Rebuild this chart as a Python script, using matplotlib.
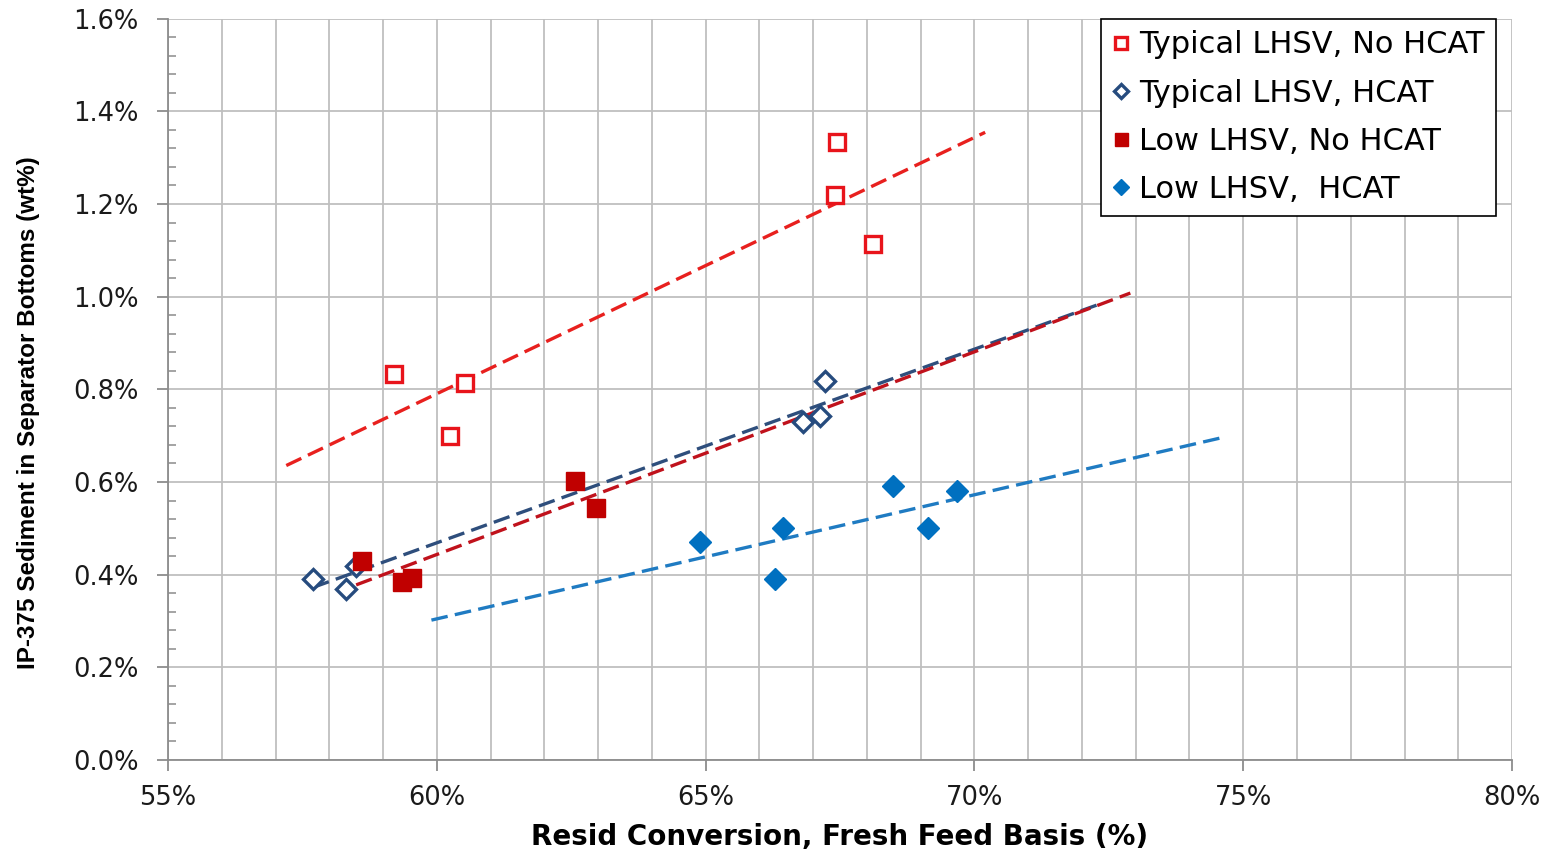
import numpy as np
import matplotlib
matplotlib.use("Agg")
import matplotlib.pyplot as plt
from matplotlib.ticker import MultipleLocator, FuncFormatter

plt.rcParams["font.family"] = ["DejaVu Sans"]

# resid conversion (%) and IP-375 sediment (wt%)
typ_nohcat_x = [59.2, 60.52, 60.25, 67.44, 67.41, 68.11]
typ_nohcat_y = [0.832, 0.813, 0.700, 1.333, 1.220, 1.113]

typ_hcat_x = [57.70, 58.31, 58.50, 67.22, 66.81, 67.13]
typ_hcat_y = [0.390, 0.369, 0.418, 0.819, 0.729, 0.742]

low_nohcat_x = [58.61, 59.35, 59.54, 62.57, 62.96]
low_nohcat_y = [0.429, 0.384, 0.392, 0.602, 0.543]

low_hcat_x = [64.90, 66.44, 66.29, 68.49, 69.14, 69.68]
low_hcat_y = [0.470, 0.500, 0.390, 0.591, 0.500, 0.580]

# x span of each linear trendline (incl. forecast)
trend_spans = [(57.2, 70.2), (57.7, 72.3), (58.5, 72.9), (59.9, 74.6)]

series = [
    ("Typical LHSV, No HCAT", typ_nohcat_x, typ_nohcat_y,
     dict(marker="s", ms=12, mfc="white", mec="#E8141B", mew=2.4), "#E8201E"),
    ("Typical LHSV, HCAT", typ_hcat_x, typ_hcat_y,
     dict(marker="D", ms=10, mfc="white", mec="#264B7E", mew=2.4), "#2E4E7C"),
    ("Low LHSV, No HCAT", low_nohcat_x, low_nohcat_y,
     dict(marker="s", ms=13, mfc="#C00000", mec="#C00000", mew=1), "#C0121C"),
    ("Low LHSV,  HCAT", low_hcat_x, low_hcat_y,
     dict(marker="D", ms=11, mfc="#0070C0", mec="#0070C0", mew=1), "#1F7BC2"),
]

fig = plt.figure(figsize=(15.44, 8.52), dpi=100)
ax = fig.add_axes([0.1088, 0.108, 0.8705, 0.8701])

for (label, xs, ys, mk, lc), (x0, x1) in zip(series, trend_spans):
    k, b = np.polyfit(xs, ys, 1)
    tx = np.array([x0, x1])
    ax.plot(tx, k * tx + b, ls=(0, (5, 2.2)), lw=2.4, color=lc, zorder=3)
for label, xs, ys, mk, lc in series:
    ax.plot(xs, ys, ls="none", label=label, zorder=4, **mk)

ax.set_xlim(55, 80)
ax.set_ylim(0, 1.6)
ax.xaxis.set_major_locator(MultipleLocator(5))
ax.xaxis.set_minor_locator(MultipleLocator(1))
ax.yaxis.set_major_locator(MultipleLocator(0.2))
ax.yaxis.set_minor_locator(MultipleLocator(0.04))
ax.xaxis.set_major_formatter(FuncFormatter(lambda v, p: f"{v:.0f}%"))
ax.yaxis.set_major_formatter(FuncFormatter(lambda v, p: f"{v:.1f}%"))

ax.grid(which="major", color="#BFBFBF", lw=1.3)
ax.grid(which="minor", axis="x", color="#BFBFBF", lw=1.3)
ax.set_axisbelow(True)

for s in ("top", "right"):
    ax.spines[s].set_visible(False)
for s in ("left", "bottom"):
    ax.spines[s].set_color("#8C8C8C")
    ax.spines[s].set_linewidth(1.3)

ax.tick_params(which="major", direction="out", length=8, width=1.3,
               color="#8C8C8C", labelsize=18.5, labelcolor="#1A1A1A")
ax.tick_params(axis="y", which="major", pad=13)
ax.tick_params(axis="x", which="major", pad=10)
ax.tick_params(axis="y", which="minor", direction="in", length=6, width=1.1,
               color="#8C8C8C")
ax.tick_params(axis="x", which="minor", length=0)

ax.set_xlabel("Resid Conversion, Fresh Feed Basis (%)", fontsize=20,
              fontweight="bold", labelpad=9)
ax.set_ylabel("IP-375 Sediment in Separator Bottoms (wt%)", fontsize=17.5,
              fontweight="bold", family=["Liberation Sans", "DejaVu Sans"])
ax.yaxis.set_label_coords(-0.095, 0.469)

leg = ax.legend(loc="upper right", bbox_to_anchor=(0.988, 1.0), borderaxespad=0,
                fontsize=22, markerscale=0.72, handlelength=0.55,
                handletextpad=0.3, labelspacing=0.63, borderpad=0.38,
                fancybox=False, framealpha=1, edgecolor="black")
leg.get_frame().set_linewidth(1.2)

fig.savefig("out.png", dpi=100)
